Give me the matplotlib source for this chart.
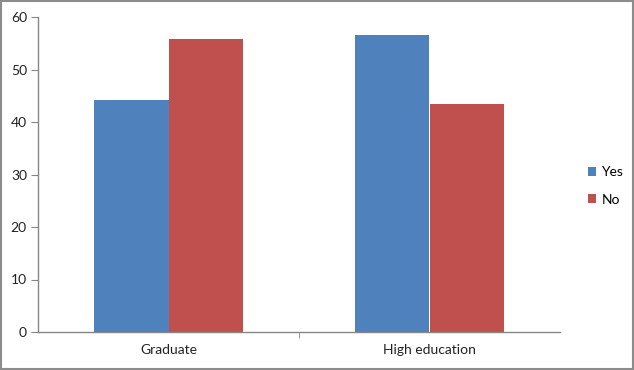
import matplotlib
matplotlib.use("Agg")
import matplotlib.pyplot as plt
import numpy as np
from matplotlib.patches import Rectangle

categories = ["Graduate", "High education"]
series_names = ["Yes", "No"]
yes_values = [44.2, 56.6]
no_values = [55.8, 43.4]
colors = ["#4F81BD", "#C0504D"]

plt.rcParams['font.family'] = ['Lato', 'DejaVu Sans']

fig = plt.figure(figsize=(6.34, 3.70), dpi=100)
ax = fig.add_axes([38/634, 1-332/370, (560-38)/634, (332-17)/370])

x = np.arange(len(categories))
w = 0.2857
ax.bar(x - w/2, yes_values, w, color=colors[0], label=series_names[0], linewidth=0)
ax.bar(x + w/2, no_values, w, color=colors[1], label=series_names[1], linewidth=0)

ax.set_xlim(-0.5, len(categories) - 0.5)
ax.set_ylim(0, 60)
ax.set_yticks(range(0, 61, 10))
ax.set_xticks(x)
ax.set_xticklabels(categories)
ax.set_xticks([0.5], minor=True)

for s in ["top", "right"]:
    ax.spines[s].set_visible(False)
for s in ["left", "bottom"]:
    ax.spines[s].set_color("#868686")
    ax.spines[s].set_linewidth(1.0)
ax.tick_params(axis="y", length=5, color="#868686", labelsize=10, labelcolor="#222222", pad=3)
ax.tick_params(axis="x", which="major", length=0, labelsize=10, labelcolor="#222222", pad=9)
ax.tick_params(axis="x", which="minor", length=4, color="#868686")

ax.legend(loc="center left", bbox_to_anchor=(575/634, 0.497), bbox_transform=fig.transFigure,
          frameon=False, fontsize=10, handlelength=0.6, handleheight=0.6, handletextpad=0.4,
          labelspacing=1.1)

fig.patches.append(Rectangle((0.002, 0.003), 0.996, 0.994, transform=fig.transFigure,
                             fill=False, edgecolor="#8c8c8c", linewidth=1.5))

fig.savefig("out.png", dpi=100)
